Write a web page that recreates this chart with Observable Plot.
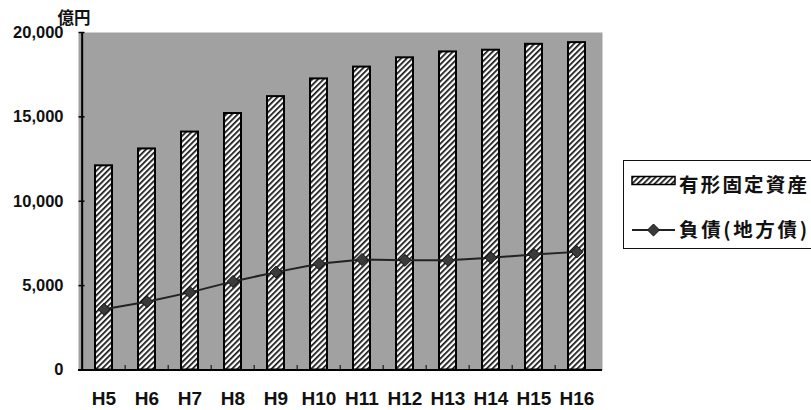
<!DOCTYPE html>
<html>
<head>
<meta charset="utf-8">
<script src="https://cdn.jsdelivr.net/npm/d3@7"></script>
<script src="https://cdn.jsdelivr.net/npm/@observablehq/plot@0.6"></script>
<style>
  html, body { margin: 0; padding: 0; background: #fff; overflow: hidden; }
  #wrap { position: relative; width: 811px; height: 410px; }
  #legend { position: absolute; left: 0; top: 0; }
</style>
</head>
<body>
<!-- shared fills: halftone screen for the plot area, diagonal hatch for the bars -->
<svg width="0" height="0" style="position:absolute">
  <defs>
    <pattern id="screen" width="2" height="2" patternUnits="userSpaceOnUse">
      <rect width="2" height="2" fill="#d2d2d2"/>
      <rect width="1" height="1" fill="#707070"/>
      <rect x="1" y="1" width="1" height="1" fill="#707070"/>
    </pattern>
    <pattern id="hatch" width="4" height="4" patternUnits="userSpaceOnUse" patternTransform="rotate(45)">
      <rect width="4" height="4" fill="#fff"/>
      <rect width="1.7" height="4" fill="#111"/>
    </pattern>
  </defs>
</svg>
<div id="wrap"></div>
<script>
// Fiscal years (Heisei)
const years = ["H5", "H6", "H7", "H8", "H9", "H10", "H11", "H12", "H13", "H14", "H15", "H16"];
// Tangible fixed assets, 100 million yen
const assets = [12100, 13100, 14100, 15200, 16200, 17250, 17950, 18500, 18850, 18950, 19300, 19400];
// Liabilities (local bonds), 100 million yen
const debt = [3600, 4050, 4600, 5250, 5800, 6300, 6550, 6500, 6500, 6650, 6850, 7000];
const yTicks = [0, 5000, 10000, 15000, 20000];
const unitLabel = "億円";
const legendLabels = ["有形固定資産", "負債(地方債)"];

const rows = years.map((year, i) => ({year, assets: assets[i], debt: debt[i]}));

const W = 811, H = 410;
const mL = 78, mR = 209, mT = 32, mB = 40.5;
const bw = (W - mL - mR) / years.length;

// short inward tick marks
const tickRight = {draw(ctx) { ctx.moveTo(0, 0); ctx.lineTo(6, 0); }};
const tickUp = {draw(ctx) { ctx.moveTo(0, 0); ctx.lineTo(0, -5); }};

const chart = Plot.plot({
  width: W,
  height: H,
  marginLeft: mL,
  marginRight: mR,
  marginTop: mT,
  marginBottom: mB,
  style: {fontFamily: '"Liberation Sans", Arial, sans-serif', background: "transparent", color: "#111"},
  x: {domain: years, padding: 0},
  y: {domain: [0, 20000]},
  marks: [
    Plot.frame({fill: "url(#screen)", stroke: null}),
    Plot.barY(rows, {x: "year", y: "assets", fill: "url(#hatch)", stroke: "#000", strokeWidth: 2, insetLeft: 13, insetRight: 13}),
    Plot.line(rows, {x: "year", y: "debt", stroke: "#222", strokeWidth: 2}),
    Plot.dot(rows, {x: "year", y: "debt", symbol: "diamond2", r: 5.4, fill: "#3a3a3a", stroke: "#111", strokeWidth: 1}),
    Plot.ruleY([0], {stroke: "#000", strokeWidth: 2}),
    Plot.ruleX([years[0]], {dx: -bw / 2, stroke: "#000", strokeWidth: 2}),
    Plot.dot(yTicks.slice(1), {y: d => d, frameAnchor: "left", symbol: tickRight, fill: "none", stroke: "#000", strokeWidth: 1.5}),
    Plot.dot(years.slice(1), {x: d => d, frameAnchor: "bottom", symbol: tickUp, dx: -bw / 2, fill: "none", stroke: "#000", strokeWidth: 1}),
    Plot.axisY({ticks: yTicks, tickSize: 0, tickPadding: 15, tickFormat: d3.format(","), fontSize: 16.5, fontWeight: "bold", label: null}),
    Plot.axisX({tickSize: 0, tickPadding: 21, fontSize: 19, fontWeight: "bold", label: null}),
    Plot.text([unitLabel], {frameAnchor: "top-left", textAnchor: "middle", lineAnchor: "middle", dx: -4.5, dy: -14, fontSize: 16.5, fontWeight: "bold", fontFamily: '"Noto Sans CJK JP", sans-serif', fill: "#111"})
  ]
});
document.getElementById("wrap").appendChild(chart);

// legend box on the right
const lg = d3.select("#wrap").append("svg")
  .attr("id", "legend").attr("width", W).attr("height", H);
lg.append("rect")
  .attr("x", 623.5).attr("y", 160.5).attr("width", 200).attr("height", 88)
  .attr("fill", "#fff").attr("stroke", "#111").attr("stroke-width", 1);
lg.append("rect")
  .attr("x", 632).attr("y", 176.5).attr("width", 43).attr("height", 8)
  .attr("fill", "url(#hatch)").attr("stroke", "#000").attr("stroke-width", 1.5);
lg.append("line")
  .attr("x1", 632).attr("x2", 675).attr("y1", 230).attr("y2", 230)
  .attr("stroke", "#222").attr("stroke-width", 2);
lg.append("path")
  .attr("transform", "translate(653.5,230)")
  .attr("d", d3.symbol(d3.symbolDiamond2, 5.4 * 5.4 * Math.PI)())
  .attr("fill", "#3a3a3a").attr("stroke", "#111");
const legendY = [183, 228];
legendLabels.forEach((t, i) => {
  lg.append("text")
    .attr("x", 679).attr("y", legendY[i])
    .attr("dominant-baseline", "central")
    .attr("textLength", 128).attr("lengthAdjust", "spacing")
    .attr("font-family", '"Noto Sans CJK JP", sans-serif')
    .attr("font-size", 19.5).attr("font-weight", "bold").attr("fill", "#111")
    .text(t);
});
</script>
</body>
</html>
